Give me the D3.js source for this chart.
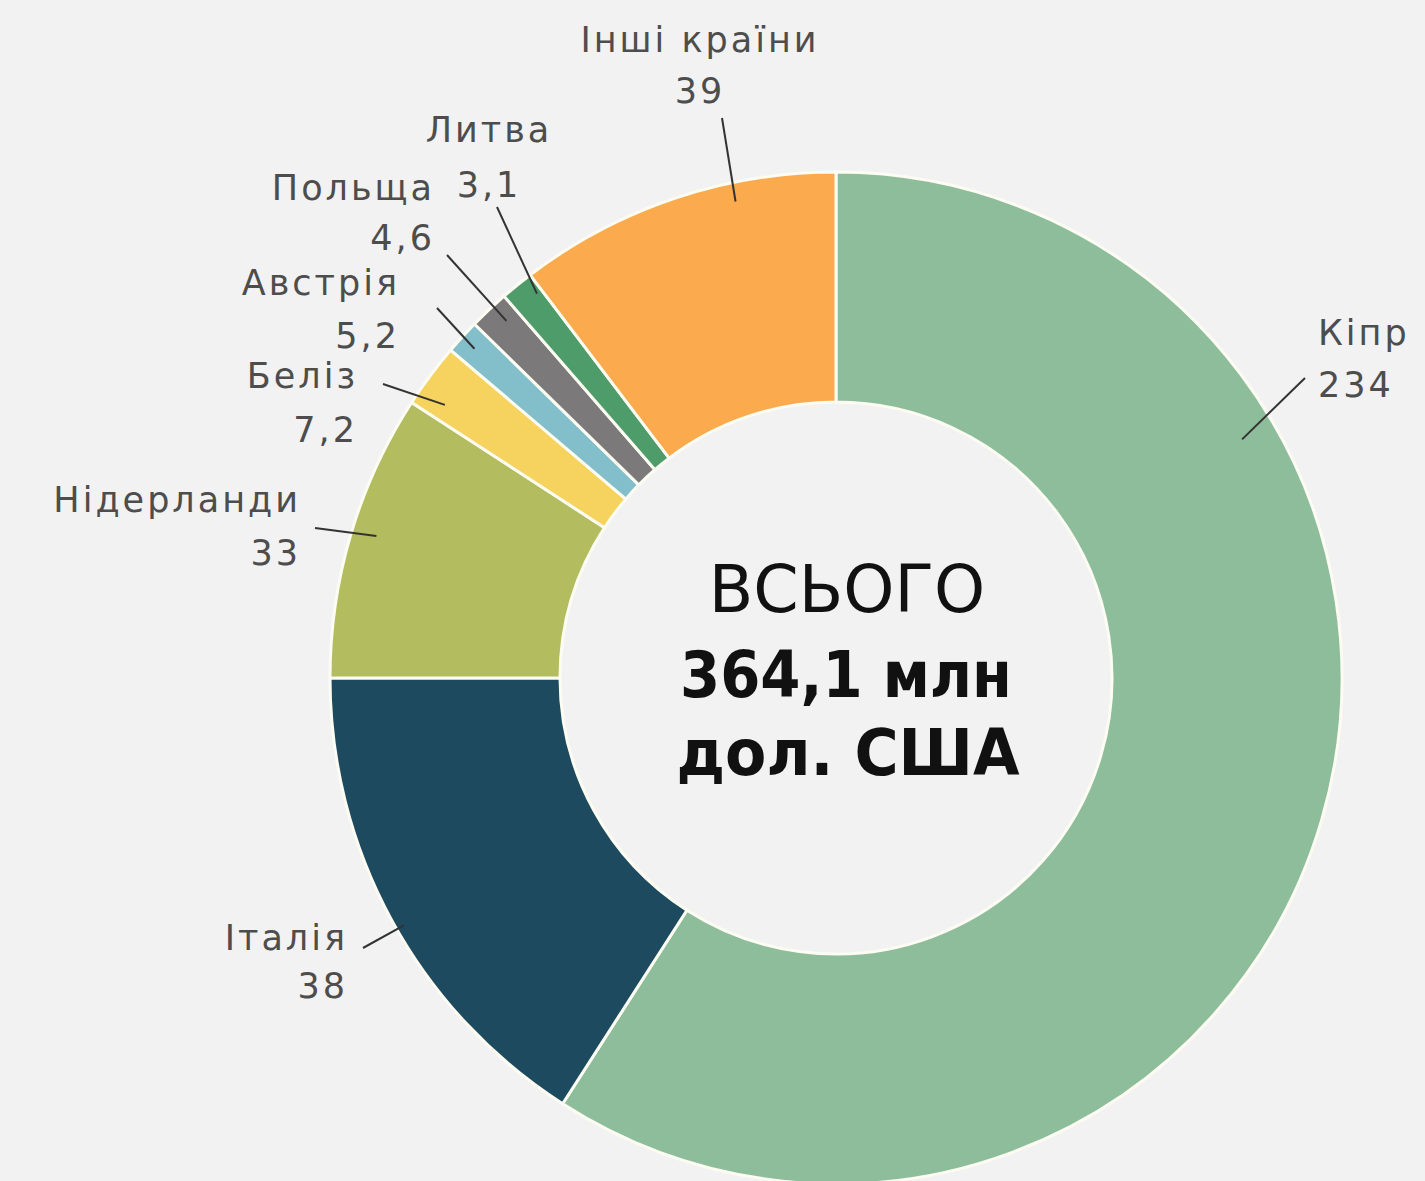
<!DOCTYPE html>
<html lang="uk">
<head>
<meta charset="UTF-8">
<title>Donut</title>
<script src="https://d3js.org/d3.v7.min.js"></script>
<style>
  body{ margin:0; background:#f2f2f2; }
  svg{ display:block; }
  .lbl{ font-family:"DejaVu Sans", sans-serif; fill:#4d4d4d; font-size:35px; letter-spacing:3px; }
  .ctr{ font-family:"DejaVu Sans", sans-serif; fill:#111; }
</style>
</head>
<body>
<div id="chart"></div>
<script>
// data
var countries = ["Кіпр", "Італія", "Нідерланди", "Беліз", "Австрія", "Польща", "Литва", "Інші країни"];
var values = [234, 38, 33, 7.2, 5.2, 4.6, 3.1, 39];
var valueLabels = ["234", "38", "33", "7,2", "5,2", "4,6", "3,1", "39"];
// slice sizes as they are drawn in the original (degrees) - Italy is drawn larger than its value
var drawnDegrees = [212.7, 57.3, 33.0, 7.4, 4.0, 4.6, 3.8, 37.2];
var colors = ["#8ebd9c", "#1d4a5f", "#b3bd5f", "#f6d25f", "#83bfcb", "#7b7979", "#4f9c6b", "#fbab4d"];
var totalLines = ["ВСЬОГО", "364,1 млн", "дол. США"];

// label layout: t = where in the slice the leader line ends, r = at what radius
var labelLayout = [
  {t:0.28, r:471, ex:1305, ey:378, x:1318, y:345, anchor:"start", dy:52},
  {t:0.48, r:498, ex:363, ey:948, x:348, y:950, anchor:"end", dy:48},
  {t:0.52, r:481, ex:315, ey:528, x:301, y:512, anchor:"end", dy:53},
  {t:0.26, r:477, ex:383, ey:384, x:358, y:388, anchor:"end", dy:54},
  {t:0.48, r:489, ex:437, ey:308, x:400, y:295, anchor:"end", dy:53},
  {t:0.63, r:486, ex:447, ey:255, x:435, y:200, anchor:"end", dy:50},
  {t:0.82, r:487, ex:497, ey:207, x:489, y:142, anchor:"middle", dy:55},
  {t:0.68, r:487, ex:722, ey:118, x:700, y:52, anchor:"middle", dy:51}
];

var width = 1425, height = 1181;
var cx = 836, cy = 678;
var outerR = 506, innerR = 276;

var svg = d3.select('#chart').append('svg')
  .attr('width', width)
  .attr('height', height);

var pie = d3.pie().sort(null).value(function(d){ return d; });
var arcs = pie(drawnDegrees);

var arc = d3.arc().innerRadius(innerR).outerRadius(outerR);

var g = svg.append('g').attr('transform', 'translate(' + cx + ',' + cy + ')');

g.selectAll('path')
  .data(arcs)
  .enter()
  .append('path')
  .attr('d', arc)
  .attr('fill', function(d, i){ return colors[i]; })
  .attr('stroke', '#fcfcf2')
  .attr('stroke-width', 3)
  .attr('stroke-linejoin', 'round');

// leader lines + labels
arcs.forEach(function(d, i){
  var L = labelLayout[i];
  var a = d.startAngle + (d.endAngle - d.startAngle) * L.t;
  var px = cx + L.r * Math.sin(a), py = cy - L.r * Math.cos(a);
  svg.append('line')
    .attr('x1', L.ex).attr('y1', L.ey)
    .attr('x2', px).attr('y2', py)
    .attr('stroke', '#333')
    .attr('stroke-width', 2);

  var t = svg.append('text')
    .attr('class', 'lbl')
    .attr('text-anchor', L.anchor);
  t.append('tspan').attr('x', L.x).attr('y', L.y).text(countries[i]);
  t.append('tspan').attr('x', L.x).attr('y', L.y + L.dy).text(valueLabels[i]);
});

// total in the middle
var ct = svg.append('g').attr('class', 'ctr').attr('text-anchor', 'middle');
ct.append('text').attr('x', cx + 11).attr('y', cy - 66).attr('font-size', 65).attr('font-weight', 400).text(totalLines[0]);
ct.append('text').attr('x', cx + 10).attr('y', cy + 19).attr('font-size', 64).attr('font-weight', 700)
  .attr('textLength', 332).attr('lengthAdjust', 'spacingAndGlyphs').text(totalLines[1]);
ct.append('text').attr('x', cx + 12).attr('y', cy + 97).attr('font-size', 64).attr('font-weight', 700)
  .attr('textLength', 343).attr('lengthAdjust', 'spacingAndGlyphs').text(totalLines[2]);
</script>
</body>
</html>
